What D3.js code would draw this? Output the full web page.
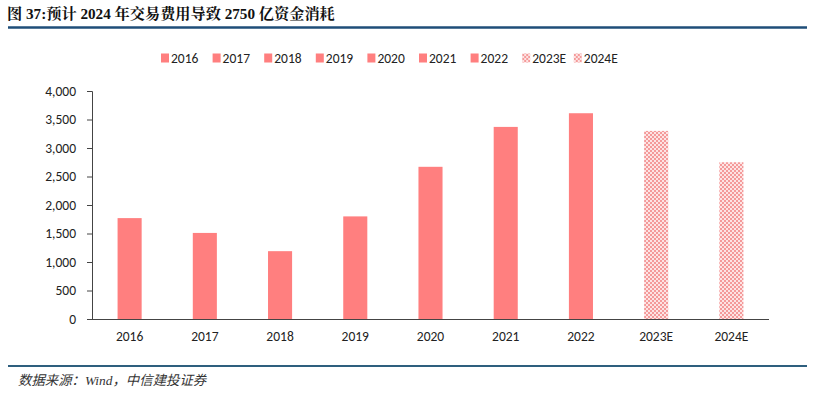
<!DOCTYPE html>
<html><head><meta charset="utf-8">
<script src="https://cdn.jsdelivr.net/npm/d3@7"></script>
<style>body{margin:0;background:#fff}svg{display:block}</style>
</head><body>
<svg id="c" width="829" height="400"></svg>
<script>
const categories = ["2016","2017","2018","2019","2020","2021","2022","2023E","2024E"];
const values = [1770, 1510, 1190, 1800, 2670, 3370, 3610, 3300, 2750];
const estimated = [false,false,false,false,false,false,false,true,true];
const yTicks = [0,500,1000,1500,2000,2500,3000,3500,4000];
const title = "图 37:预计 2024 年交易费用导致 2750 亿资金消耗";
const source = "数据来源：Wind，中信建投证券";

const svg = d3.select("#c");
const red = "#FF7F7F";
const defs = svg.append("defs");
const pat = defs.append("pattern").attr("id","chk").attr("patternUnits","userSpaceOnUse")
  .attr("width",4).attr("height",4);
pat.append("rect").attr("width",4).attr("height",4).attr("fill","#fde4e4");
pat.append("rect").attr("x",0).attr("y",0).attr("width",2).attr("height",2).attr("fill","#f49a9a");
pat.append("rect").attr("x",2).attr("y",2).attr("width",2).attr("height",2).attr("fill","#f49a9a");

// title
svg.append("text").attr("x",7).attr("y",19).text(title)
  .attr("font-family","'Liberation Serif','Noto Serif CJK SC','Noto Sans CJK SC',serif")
  .attr("font-weight","bold").attr("font-size",15.2).attr("fill","#111");
svg.append("line").attr("x1",8).attr("x2",807).attr("y1",27.5).attr("y2",27.5)
  .attr("stroke","#1f4e79").attr("stroke-width",2.5);
svg.append("line").attr("x1",8).attr("x2",807).attr("y1",366).attr("y2",366)
  .attr("stroke","#2e5f7e").attr("stroke-width",2);
svg.append("text").attr("x",18).attr("y",385).text(source)
  .attr("font-family","'Liberation Serif','Noto Sans CJK SC',serif")
  .attr("font-style","italic").attr("font-size",13.4).attr("fill","#333");

const x = d3.scaleBand().domain(categories).range([92,769]).paddingInner(0.68).paddingOuter(0.34);
const y = d3.scaleLinear().domain([0,4000]).range([319,91]);

const fontAx = "Carlito,'Liberation Sans','Open Sans',sans-serif";
const yAxis = svg.append("g").attr("transform","translate(92,0)")
  .call(d3.axisLeft(y).tickValues(yTicks).tickSize(5).tickFormat(d3.format(",")));
yAxis.selectAll("text").attr("font-family",fontAx).attr("font-size",13.5).attr("fill","#222").attr("dx",-8);
yAxis.selectAll("line").attr("stroke","#444");
yAxis.select(".domain").attr("stroke","#444").attr("d","M-5,91.5H0.5V319.5");

svg.append("g").selectAll("rect").data(categories).join("rect")
  .attr("x",d=>x(d)).attr("width",x.bandwidth())
  .attr("y",(d,i)=>y(values[i])).attr("height",(d,i)=>y(0)-y(values[i]))
  .attr("fill",(d,i)=>estimated[i]?"url(#chk)":red);

const xAxis = svg.append("g").attr("transform","translate(0,319)")
  .call(d3.axisBottom(x).tickSize(0).tickPadding(12));
xAxis.select(".domain").attr("stroke","#444").attr("d","M92,0.5H769");
xAxis.selectAll("text").attr("font-family",fontAx).attr("font-size",13.5).attr("fill","#222");

// legend
const lg = svg.append("g");
categories.forEach((c,i)=>{
  const g = lg.append("g").attr("transform",`translate(${161 + i*51.6},58)`);
  g.append("rect").attr("x",0).attr("y",-4.5).attr("width",8).attr("height",9)
    .attr("fill",estimated[i]?"url(#chk)":red);
  g.append("text").attr("x",10).attr("y",5).text(c)
    .attr("font-family",fontAx).attr("font-size",13.5).attr("fill","#222");
});
</script>
</body></html>
